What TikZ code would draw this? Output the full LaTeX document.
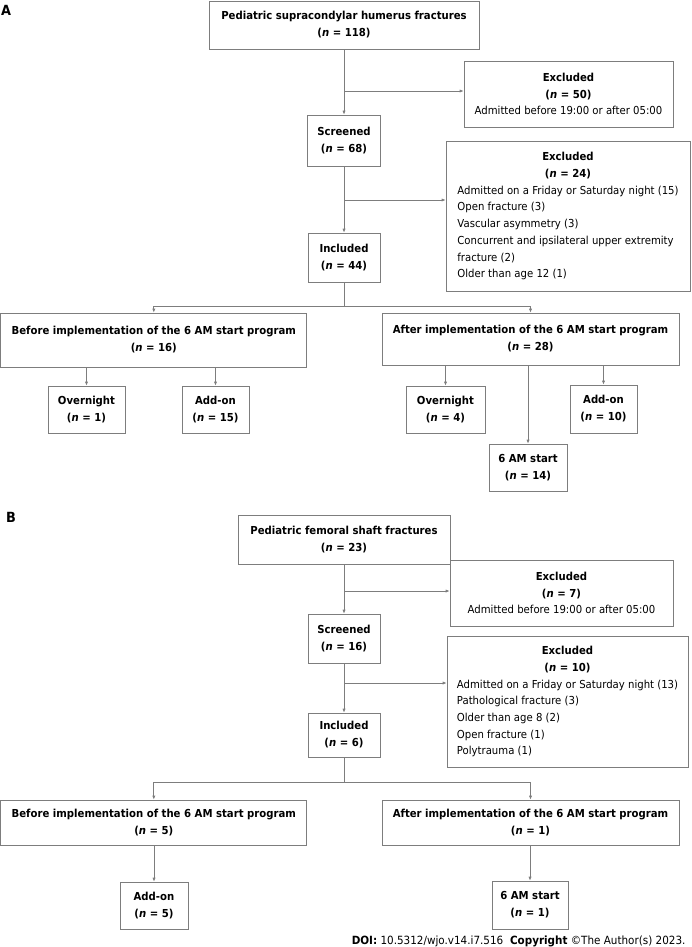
\documentclass[tikz,border=0pt]{standalone}
\usepackage{fontspec}
\setmainfont{DejaVu Sans}[FakeStretch=0.92]
\usetikzlibrary{arrows.meta, positioning, calc}
\definecolor{linegray}{RGB}{125,125,125}

\begin{document}
\begin{tikzpicture}[
    x=1pt, y=-1pt,
    box/.style={rectangle, draw=linegray, line width=0.7pt, align=center, inner sep=2pt, font=\fontsize{11}{17}\selectfont\bfseries},
    exbox/.style={rectangle, draw=linegray, line width=0.7pt, inner sep=2pt, font=\fontsize{11}{16.7}\selectfont},
    arr/.style={draw=linegray, line width=0.7pt, -{Latex[length=4pt, width=3.2pt]}},
    conn/.style={draw=linegray, line width=0.7pt},
    panel/.style={font=\fontsize{14}{14}\selectfont\bfseries}
]
    \useasboundingbox (0,0) rectangle (691,947);

    % panel A
    \node[panel] (labA) at (6,10) {A};
    \node[box, minimum width=270, minimum height=48] (topA) at (344,25) {Pediatric supracondylar humerus fractures\\(\textit{n} = 118)};
    \node[exbox, align=center, minimum width=209, minimum height=66] (exA1) at (568.5,94) {\textbf{Excluded}\\\textbf{(\textit{n} = 50)}\\Admitted before 19:00 or after 05:00};
    \node[box, minimum width=73, minimum height=51] (scrA) at (344,140.5) {Screened\\(\textit{n} = 68)};
    \node[exbox, minimum width=244, minimum height=150] (exA2) at (568,216) {\begin{tabular}{@{}l@{}}
        \multicolumn{1}{@{}c@{}}{\bfseries Excluded}\\
        \multicolumn{1}{@{}c@{}}{\bfseries (\textit{n} = 24)}\\
        Admitted on a Friday or Saturday night (15)\\
        Open fracture (3)\\
        Vascular asymmetry (3)\\
        Concurrent and ipsilateral upper extremity\\
        fracture (2)\\
        Older than age 12 (1)
    \end{tabular}};
    \node[box, minimum width=72, minimum height=49] (incA) at (344,257.5) {Included\\(\textit{n} = 44)};
    \node[box, minimum width=306, minimum height=54] (befA) at (153.8,340) {Before implementation of the 6 AM start program\\(\textit{n} = 16)};
    \node[box, minimum width=297, minimum height=52] (aftA) at (530.5,339) {After implementation of the 6 AM start program\\(\textit{n} = 28)};
    \node[box, minimum width=77, minimum height=47] (ovA1) at (86.5,409.5) {Overnight\\(\textit{n} = 1)};
    \node[box, minimum width=67, minimum height=47] (addA1) at (215.5,409.5) {Add-on\\(\textit{n} = 15)};
    \node[box, minimum width=79, minimum height=47] (ovA2) at (445.5,409.5) {Overnight\\(\textit{n} = 4)};
    \node[box, minimum width=67, minimum height=48] (addA2) at (603.5,409) {Add-on\\(\textit{n} = 10)};
    \node[box, minimum width=78, minimum height=47] (amA) at (528,467.5) {6 AM start\\(\textit{n} = 14)};

    \coordinate (jA1) at (344,91);
    \coordinate (jA2) at (344,200);
    \coordinate (sA) at (344,306);
    \draw[arr] (topA) -- (scrA);
    \draw[arr] (jA1) -- (jA1 -| exA1.west);
    \draw[arr] (scrA) -- (incA);
    \draw[arr] (jA2) -- (jA2 -| exA2.west);
    \draw[conn] (incA) -- (sA);
    \draw[arr] (sA) -| (befA);
    \draw[arr] (sA) -| (aftA);
    \draw[arr] (ovA1 |- befA.south) -- (ovA1);
    \draw[arr] (addA1 |- befA.south) -- (addA1);
    \draw[arr] (ovA2 |- aftA.south) -- (ovA2);
    \draw[arr] (addA2 |- aftA.south) -- (addA2);
    \draw[arr] (amA |- aftA.south) -- (amA);

    % panel B
    \node[panel] (labB) at (11,517) {B};
    \node[box, minimum width=212, minimum height=49] (topB) at (344,539.5) {Pediatric femoral shaft fractures\\(\textit{n} = 23)};
    \node[exbox, align=center, minimum width=223, minimum height=66] (exB1) at (561.5,593) {\textbf{Excluded}\\\textbf{(\textit{n} = 7)}\\Admitted before 19:00 or after 05:00};
    \node[box, minimum width=72, minimum height=49] (scrB) at (344,638.5) {Screened\\(\textit{n} = 16)};
    \node[exbox, minimum width=241, minimum height=131] (exB2) at (567.5,701.5) {\begin{tabular}{@{}l@{}}
        \multicolumn{1}{@{}c@{}}{\bfseries Excluded}\\
        \multicolumn{1}{@{}c@{}}{\bfseries (\textit{n} = 10)}\\
        Admitted on a Friday or Saturday night (13)\\
        Pathological fracture (3)\\
        Older than age 8 (2)\\
        Open fracture (1)\\
        Polytrauma (1)
    \end{tabular}};
    \node[box, minimum width=72, minimum height=44] (incB) at (344,735) {Included\\(\textit{n} = 6)};
    \node[box, minimum width=306, minimum height=45] (befB) at (153.8,822.5) {Before implementation of the 6 AM start program\\(\textit{n} = 5)};
    \node[box, minimum width=297, minimum height=45] (aftB) at (530.5,822.5) {After implementation of the 6 AM start program\\(\textit{n} = 1)};
    \node[box, minimum width=68, minimum height=47] (addB) at (154,905.5) {Add-on\\(\textit{n} = 5)};
    \node[box, minimum width=76, minimum height=48] (amB) at (530,905) {6 AM start\\(\textit{n} = 1)};

    \coordinate (jB1) at (344,591);
    \coordinate (jB2) at (344,683);
    \coordinate (sB) at (344,782);
    \draw[arr] (topB) -- (scrB);
    \draw[arr] (jB1) -- (jB1 -| exB1.west);
    \draw[arr] (scrB) -- (incB);
    \draw[arr] (jB2) -- (jB2 -| exB2.west);
    \draw[conn] (incB) -- (sB);
    \draw[arr] (sB) -| (befB);
    \draw[arr] (sB) -| (aftB);
    \draw[arr] (addB |- befB.south) -- (addB);
    \draw[arr] (amB |- aftB.south) -- (amB);

    \node[anchor=east, font=\fontsize{11.3}{12}\selectfont] (doi) at (689,941) {\textbf{DOI:} 10.5312/wjo.v14.i7.516\hspace{0.6em}\textbf{Copyright} ©The Author(s) 2023.};
\end{tikzpicture}
\end{document}
